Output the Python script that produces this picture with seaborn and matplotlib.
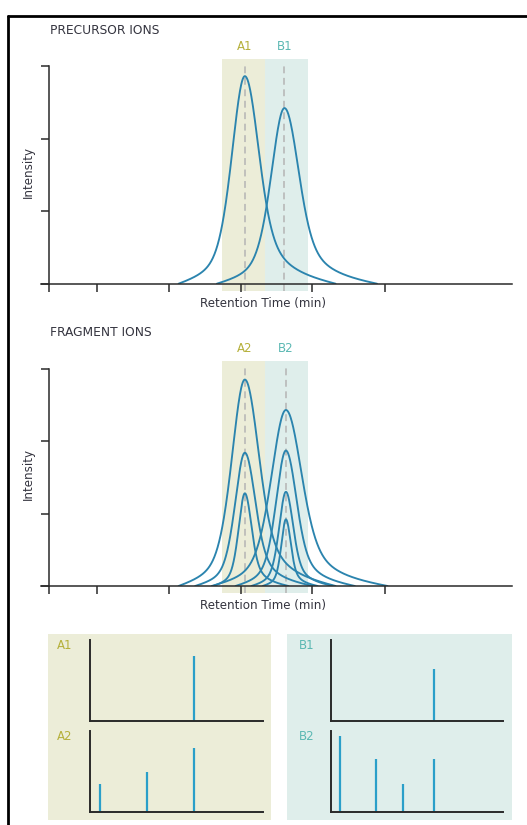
import numpy as np
import pandas as pd
import matplotlib
matplotlib.use("Agg")
import matplotlib.pyplot as plt
import seaborn as sns
from matplotlib.patches import Rectangle
from matplotlib.lines import Line2D

# ---- data ----
time_ticks = [0, 0.66, 1.67, 2.66, 3.65, 4.66]
band_A = (2.40, 3.00)
band_B = (3.00, 3.60)

precursor_names = ["A1", "B1"]
precursor_rt = [2.72, 3.27]
precursor_height = [2.86, 2.42]
precursor_width = [1.0, 1.02]

fragment_names = ["A2", "B2"]
fragment_rt = [2.72, 3.29]
fragment_A_height = [2.85, 1.84, 1.28]
fragment_A_width = [1.0, 0.75, 0.48]
fragment_B_height = [2.43, 1.87, 1.30, 0.92]
fragment_B_width = [1.12, 0.76, 0.52, 0.35]

mz_A1 = [60]
int_A1 = [0.80]
mz_A2 = [6, 33, 60]
int_A2 = [0.35, 0.50, 0.79]
mz_B1 = [60]
int_B1 = [0.64]
mz_B2 = [5, 26, 42, 60]
int_B2 = [0.94, 0.65, 0.35, 0.65]

# ---- style ----
sns.set_style("white")
plt.rcParams["font.family"] = ["DejaVu Sans"]

TEXT = "#34343f"
CURVE = "#2b84ae"
BAR = "#2a9fc9"
COL_A = "#b5b03a"
COL_B = "#5bb8b3"
FILL_A = "#ecedd8"
FILL_B = "#dfeeeb"
AXIS = "#2a2a2a"

# peak shape (gaussian core with lorentzian tails), in minutes
SIG, GL, GR, ETA, EL, ER = 0.18, 0.24, 0.32, 0.47, 0.92, 1.26


def peak(c, h, w):
    t = np.linspace(c - EL * w, c + ER * w, 400)
    d = (t - c) / w
    g = np.exp(-0.5 * (d / SIG) ** 2)
    gam = np.where(d < 0, GL, GR)
    f = (1 - ETA) * g + ETA / (1 + (d / gam) ** 2)
    r = np.where(d < 0, -d / EL, d / ER)
    f = f * (1 - r ** 4)
    return pd.DataFrame({"rt": t, "intensity": h * f})


W, H = 527, 825
fig = plt.figure(figsize=(W / 100, H / 100), dpi=100)


def add_ax(left, top, right, bottom):
    return fig.add_axes([left / W, 1 - bottom / H, (right - left) / W, (bottom - top) / H])


def chrom_panel(top, bottom, title, names, marks, peaks):
    ax = add_ax(41, top, 512, bottom)
    ax.set_facecolor("none")
    ax.set_xlim(-0.111, 6.43)
    ax.set_ylim(0, 3)
    hpx = bottom - top
    below = -7 / hpx
    above = 1 + 7.5 / hpx
    for (lo, hi), col in [(band_A, FILL_A), (band_B, FILL_B)]:
        r = ax.axvspan(lo, hi, ymin=below, ymax=above, color=col, lw=0, zorder=0)
        r.set_clip_on(False)
    for x in marks:
        ln = ax.axvline(x, ymin=below, ymax=1 + 1 / hpx, color="#b4b4b4", lw=1.1,
                        ls=(0, (4.5, 3)), zorder=1)
        ln.set_clip_on(False)
    for df in peaks:
        sns.lineplot(data=df, x="rt", y="intensity", ax=ax, color=CURVE, lw=1.35,
                     zorder=3, estimator=None, sort=False)
    for name, x, col in zip(names, marks, [COL_A, COL_B]):
        ax.text(x, 1 + 20 / hpx, name, transform=ax.get_xaxis_transform(),
                ha="center", va="center", color=col, fontsize=8.5)
    ax.spines[["top", "right"]].set_visible(False)
    ax.spines["left"].set_position(("data", 0))
    ax.spines["left"].set_bounds(0, 3)
    for s in ["left", "bottom"]:
        ax.spines[s].set_color(AXIS)
        ax.spines[s].set_linewidth(1.1)
        ax.spines[s].set_zorder(4)
    ax.set_xticks(time_ticks)
    ax.set_yticks([0, 1, 2, 3])
    ax.tick_params(axis="both", direction="out", length=5.5, width=1.1, color=AXIS,
                   labelbottom=False, labelleft=False, bottom=True, left=True)
    ax.set_xlabel("")
    ax.set_ylabel("")
    fig.text(50 / W, 1 - (top - 36) / H, title, ha="left", va="center", color=TEXT,
             fontsize=8.8)
    fig.text(262.5 / W, 1 - (bottom + 20) / H, "Retention Time (min)", ha="center",
             va="center", color=TEXT, fontsize=8.6)
    fig.text(28 / W, 1 - ((top + bottom) / 2 - 3) / H, "Intensity", rotation=90,
             ha="center", va="center", color=TEXT, fontsize=8.6)
    return ax


prec_peaks = [peak(c, h, w) for c, h, w in zip(precursor_rt, precursor_height, precursor_width)]
chrom_panel(66, 283.7, "PRECURSOR IONS", precursor_names, precursor_rt, prec_peaks)

frag_peaks = [peak(fragment_rt[0], h, w) for h, w in zip(fragment_A_height, fragment_A_width)]
frag_peaks += [peak(fragment_rt[1], h, w) for h, w in zip(fragment_B_height, fragment_B_width)]
chrom_panel(368.7, 586, "FRAGMENT IONS", fragment_names, fragment_rt, frag_peaks)

# ---- spectra boxes ----
fig.add_artist(Rectangle((47.7 / W, 1 - 820 / H), 223 / W, 186 / H,
                         transform=fig.transFigure, color=FILL_A, lw=0, zorder=0))
fig.add_artist(Rectangle((287.3 / W, 1 - 820 / H), 224.4 / W, 186 / H,
                         transform=fig.transFigure, color=FILL_B, lw=0, zorder=0))

spectra = [
    ("A1", mz_A1, int_A1, (90, 640, 263.3, 721.3), COL_A, 57),
    ("A2", mz_A2, int_A2, (90, 731, 263.3, 812.3), COL_A, 57),
    ("B1", mz_B1, int_B1, (331, 640, 502.7, 720.5), COL_B, 299),
    ("B2", mz_B2, int_B2, (331, 731, 502.7, 812.3), COL_B, 299),
]
for name, mz, inten, box, col, lx in spectra:
    ax = add_ax(*box)
    ax.set_facecolor("none")
    ax.set_xlim(0, 100)
    ax.set_ylim(0, 1)
    ax.vlines(mz, 0, inten, color=BAR, lw=1.6)
    ax.spines[["top", "right"]].set_visible(False)
    for s in ["left", "bottom"]:
        ax.spines[s].set_color(AXIS)
        ax.spines[s].set_linewidth(1.4)
    ax.set_xticks([])
    ax.set_yticks([])
    fig.text(lx / W, 1 - (box[1] + 5.5) / H, name, ha="left", va="center", color=col,
             fontsize=8.5)

# ---- frame ----
fig.add_artist(Line2D([8 / W, 1], [1 - 16 / H, 1 - 16 / H], color="black", lw=2,
                      transform=fig.transFigure))
fig.add_artist(Line2D([8 / W, 8 / W], [1 - 16 / H, 0], color="black", lw=2,
                      transform=fig.transFigure))

fig.savefig("out.png", dpi=100)
